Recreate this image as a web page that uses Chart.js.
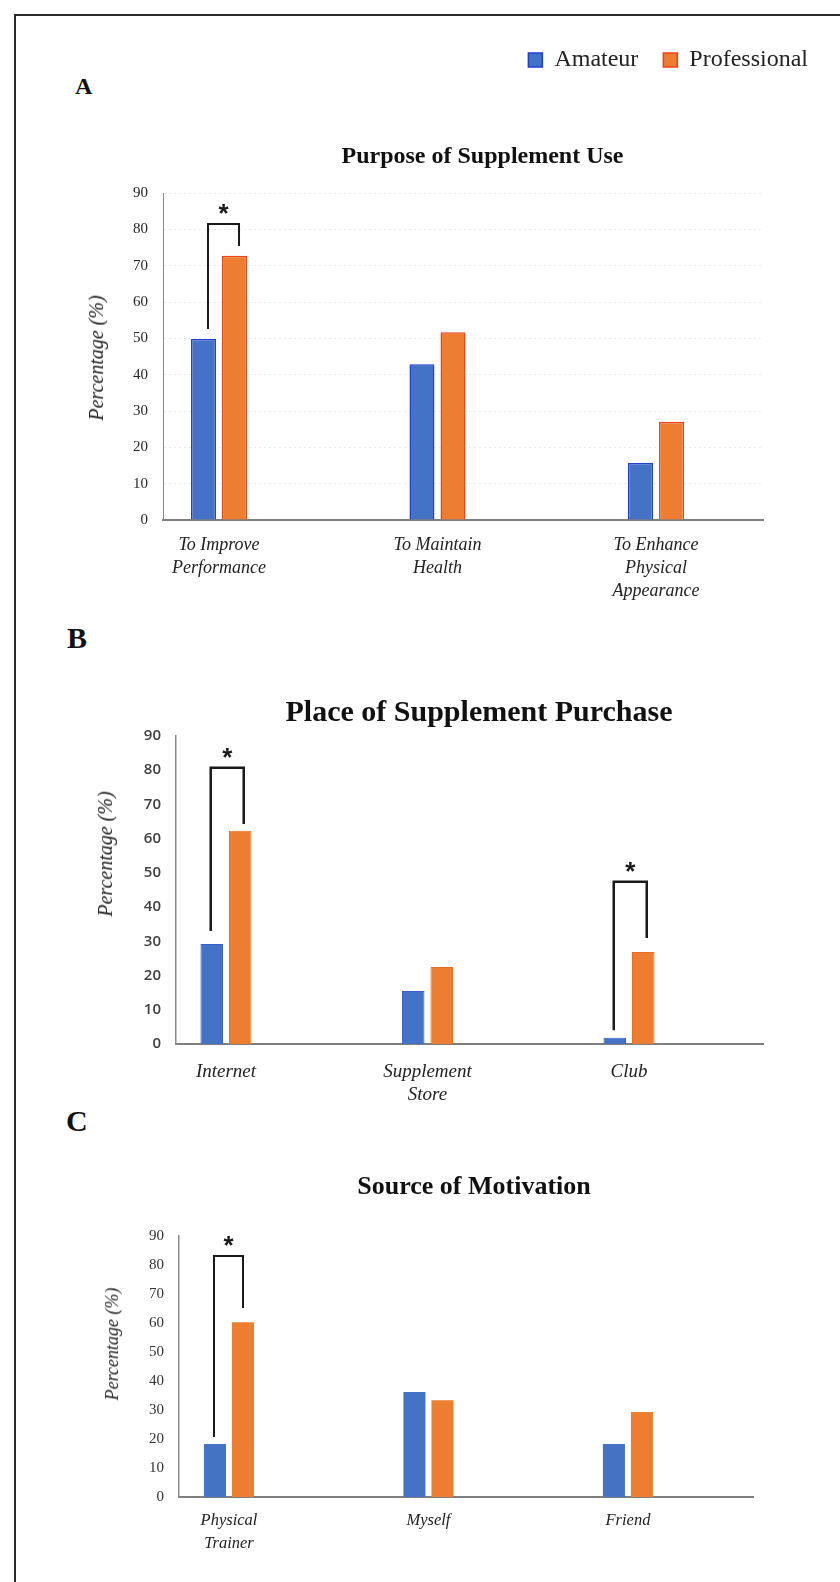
<!DOCTYPE html>
<html>
<head>
<meta charset="utf-8">
<script src="https://cdn.jsdelivr.net/npm/chart.js@4.4.1/dist/chart.umd.min.js"></script>
<style>
  html, body { margin: 0; padding: 0; background: #fff; }
  body { width: 840px; height: 1582px; position: relative; overflow: hidden; }
  .frame { position: absolute; left: 14px; top: 14px; width: 900px; height: 1700px; border: 2px solid #2b2b2b; box-sizing: border-box; }
  .letter { position: absolute; font-family: 'Liberation Serif', serif; font-weight: bold; color: #111; line-height: 1; }
  .ytitle { position: absolute; font-family: 'Liberation Serif', serif; font-style: italic; color: #222; line-height: 1;
            white-space: nowrap; transform: translate(-50%, -50%) rotate(-90deg); }
  canvas { position: absolute; left: 0; }
</style>
</head>
<body>
<div class="frame"></div>
<div class="letter" style="left:75px;top:74px;font-size:24px">A</div>
<div class="letter" style="left:67px;top:623px;font-size:30px">B</div>
<div class="letter" style="left:66px;top:1106px;font-size:30px">C</div>

<canvas id="chartA" width="833" height="620" style="top:0"></canvas>
<canvas id="chartB" width="840" height="480" style="top:640px"></canvas>
<canvas id="chartC" width="840" height="432" style="top:1150px"></canvas>

<div class="ytitle" style="left:96px;top:358px;font-size:20px">Percentage (%)</div>
<div class="ytitle" style="left:105px;top:854px;font-size:20px">Percentage (%)</div>
<div class="ytitle" style="left:112px;top:1344px;font-size:18px">Percentage (%)</div>

<script>
// ---------------------------
//  Data
// ---------------------------
const seriesNames = ['Amateur', 'Professional'];

// A - purpose of use
const purposeLabels = [['To Improve', 'Performance'], ['To Maintain', 'Health'], ['To Enhance', 'Physical', 'Appearance']];
const purposeAmateur = [49.8, 42.9, 15.7];
const purposePro = [72.7, 51.7, 27.0];
const purposeSig = [{ cat: 0, top: 81.5, a: 52.6, b: 75.4 }];

// B - place of purchase
const placeLabels = ['Internet', ['Supplement', 'Store'], 'Club'];
const placeAmateur = [29.2, 15.5, 1.8];
const placePro = [62.3, 22.5, 26.9];
const placeSig = [{ cat: 0, top: 80.7, a: 33, b: 64.3 }, { cat: 2, top: 47.4, a: 4, b: 31 }];

// C - source of motivation
const sourceLabels = [['Physical', 'Trainer'], 'Myself', 'Friend'];
const sourceAmateur = [18.3, 36.2, 18.3];
const sourcePro = [60.3, 33.4, 29.3];
const sourceSig = [{ cat: 0, top: 83.1, a: 20.7, b: 65.2 }];

const yMax = 90;
const yStep = 10;

Chart.defaults.font.family = '"Liberation Serif", serif';
Chart.defaults.color = '#222';

// bracket + asterisk over the significant pairs
const sigBrackets = {
  id: 'sigBrackets',
  afterDatasetsDraw(chart, args, opts) {
    const { ctx } = chart;
    const y = chart.scales.y;
    const m0 = chart.getDatasetMeta(0);
    const m1 = chart.getDatasetMeta(1);
    const dx = opts.dx || [0, 0];
    ctx.save();
    ctx.strokeStyle = '#1a1a1a';
    ctx.fillStyle = '#1a1a1a';
    ctx.lineWidth = opts.width || 2;
    (opts.items || []).forEach(s => {
      const x1 = m0.data[s.cat].x + dx[0];
      const x2 = m1.data[s.cat].x + dx[1];
      const yt = y.getPixelForValue(s.top);
      ctx.beginPath();
      ctx.moveTo(x1, y.getPixelForValue(s.a));
      ctx.lineTo(x1, yt);
      ctx.lineTo(x2, yt);
      ctx.lineTo(x2, y.getPixelForValue(s.b));
      ctx.stroke();
      ctx.font = 'bold 26px "Liberation Sans"';
      ctx.textAlign = 'center';
      ctx.textBaseline = 'alphabetic';
      ctx.fillText('*', (x1 + x2) / 2, yt - 2);
    });
    ctx.restore();
  }
};

const toPoints = arr => arr.map((v, i) => ({ x: i, y: v }));

function barChart(id, p) {
  return new Chart(document.getElementById(id), {
    type: 'bar',
    data: {
      datasets: [
        { label: seriesNames[0], data: toPoints(p.amateur), backgroundColor: '#4472C4',
          borderColor: p.blueBorder, borderWidth: p.borderWidth,
          barPercentage: p.barPct, categoryPercentage: p.catPct },
        { label: seriesNames[1], data: toPoints(p.pro), backgroundColor: '#ED7D31',
          borderColor: p.orangeBorder, borderWidth: p.borderWidth,
          barPercentage: p.barPct, categoryPercentage: p.catPct }
      ]
    },
    plugins: [sigBrackets],
    options: {
      responsive: false,
      animation: false,
      layout: { padding: { left: p.padLeft, right: 0, top: p.padTop || 0, bottom: 0 } },
      plugins: {
        legend: p.legend ? {
          display: true, position: 'top', align: 'end', weight: 3000,
          labels: { boxWidth: 14, boxHeight: 14, padding: 25, color: '#222', font: { size: 24 } }
        } : { display: false },
        title: {
          display: true, text: p.title, color: '#111',
          font: { size: p.titleSize, weight: 'bold' },
          padding: p.titlePad
        },
        tooltip: { enabled: false },
        sigBrackets: { items: p.sig, width: p.sigWidth, dx: p.sigDx }
      },
      scales: {
        x: {
          type: 'linear', min: p.xMin, max: p.xMax, offset: false,
          grid: { display: false, drawTicks: false, offset: false },
          border: { display: true, color: '#7f7f7f', width: 2 },
          ticks: {
            stepSize: 1, includeBounds: false, autoSkip: false, maxRotation: 0,
            padding: p.xPad, color: '#222',
            font: { size: p.xFont, style: 'italic', lineHeight: '23px' },
            callback: v => Number.isInteger(v) ? p.labels[v] : ''
          },
          afterFit: s => { s.height = p.xHeight; }
        },
        y: {
          type: 'linear', min: 0, max: yMax,
          grid: p.grid ? { display: true, drawTicks: false, color: c => c.tick.value === 0 ? 'rgba(0,0,0,0)' : '#ececec' }
                       : { display: false, drawTicks: false },
          border: { display: true, color: '#8a8a8a', width: p.yBorder, dash: p.grid ? [2, 3] : [] },
          ticks: { stepSize: yStep, padding: 15, color: p.tickColor, font: p.tickFont },
          title: { display: false },
          afterFit: s => { s.width = p.yWidth; }
        },
        spacer: {
          type: 'linear', position: 'right', display: true,
          grid: { display: false, drawTicks: false },
          border: { display: false },
          ticks: { display: false },
          afterFit: s => { s.width = p.spacer; }
        }
      }
    }
  });
}

// A
barChart('chartA', {
  title: 'Purpose of Supplement Use', titleSize: 24, titlePad: { top: 60.6, bottom: 21.6 },
  legend: true, padTop: 23, padLeft: 132, yWidth: 31, spacer: 70,
  labels: purposeLabels, amateur: purposeAmateur, pro: purposePro,
  sig: purposeSig, sigWidth: 2, sigDx: [4.5, 4.5],
  xMin: -0.2563, xMax: 2.4897, xPad: 13.5, xFont: 18, xHeight: 100,
  barPct: 0.806, catPct: 0.284, borderWidth: 1.5, blueBorder: '#1e3fcf', orangeBorder: '#f2401a',
  grid: true, yBorder: 1, tickColor: '#262626', tickFont: { size: 15 }
});

// B
barChart('chartB', {
  title: 'Place of Supplement Purchase', titleSize: 30, titlePad: { top: 55, bottom: 5 },
  legend: false, padLeft: 118, yWidth: 58, spacer: 77,
  labels: placeLabels, amateur: placeAmateur, pro: placePro,
  sig: placeSig, sigWidth: 2.5, sigDx: [-1, 3.5],
  xMin: -0.248, xMax: 2.665, xPad: 16.5, xFont: 19, xHeight: 76,
  barPct: 0.79, catPct: 0.283, borderWidth: 1, blueBorder: '#3560cc', orangeBorder: '#ef6a22',
  grid: false, yBorder: 1.5, tickColor: '#404040', tickFont: { family: '"Open Sans", sans-serif', size: 15, weight: 600 }
});

// C
barChart('chartC', {
  title: 'Source of Motivation', titleSize: 26, titlePad: { top: 21.4, bottom: 33.4 },
  legend: false, padLeft: 108, yWidth: 71, spacer: 87,
  labels: sourceLabels, amateur: sourceAmateur, pro: sourcePro,
  sig: sourceSig, sigWidth: 2, sigDx: [-1, 0],
  xMin: -0.2506, xMax: 2.627, xPad: 12.5, xFont: 16.5, xHeight: 85,
  barPct: 0.786, catPct: 0.281, borderWidth: 0, blueBorder: '#4472C4', orangeBorder: '#ED7D31',
  grid: false, yBorder: 1.5, tickColor: '#333', tickFont: { size: 15 }
});
</script>
</body>
</html>
